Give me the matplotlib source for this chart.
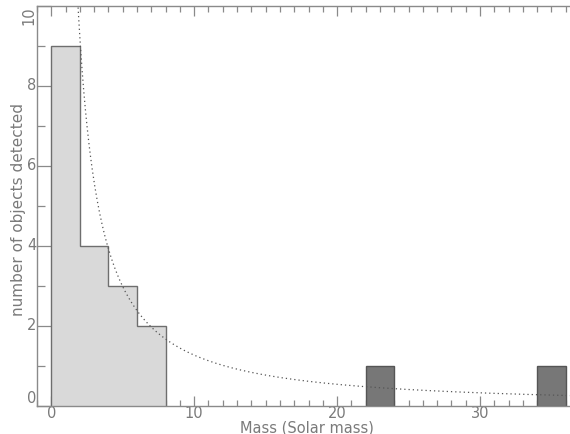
import numpy as np
import matplotlib
matplotlib.use("Agg")
import matplotlib.pyplot as plt
from matplotlib.ticker import MultipleLocator

# Histogram of detected masses (solar masses), bins 2 wide
light_edges = [0, 2, 4, 6, 8]
light_counts = [9, 4, 3, 2]
dark_left = [22, 34]
dark_counts = [1, 1]
bin_width = 2

# Power-law fit  N(M) = amp * M**(-index)
fit_amp = 21.6
fit_index = 1.23

axis_gray = "#8a8a8a"
text_gray = "#7a7a7a"

fig = plt.figure(figsize=(5.70, 4.34), dpi=100)
ax = fig.add_axes([37 / 570, 28 / 434, 533 / 570, 400 / 434])

# light histogram: filled steps with a single outline
ax.stairs(light_counts, light_edges, fill=True, color="#d9d9d9",
          linewidth=0, zorder=2)
ax.stairs(light_counts, light_edges, baseline=0, color="#6e6e6e",
          linewidth=1.0, zorder=2.5)
ax.bar(dark_left, dark_counts, width=bin_width, align="edge",
       color="#777777", edgecolor="#555555", linewidth=1.0, zorder=2)

m = np.linspace(1.5, 37, 600)
ax.plot(m, fit_amp * m ** (-fit_index), linestyle=(0, (1, 2.4)),
        color="#555555", linewidth=0.9, zorder=3)

ax.set_xlim(-1, 36.3)
ax.set_ylim(0, 10)

ax.xaxis.set_major_locator(MultipleLocator(10))
ax.xaxis.set_minor_locator(MultipleLocator(1))
ax.yaxis.set_major_locator(MultipleLocator(2))
ax.yaxis.set_minor_locator(MultipleLocator(1))

for side in ("left", "bottom", "top"):
    ax.spines[side].set_color(axis_gray)
    ax.spines[side].set_linewidth(1.0)
ax.spines["right"].set_visible(False)

ax.tick_params(axis="x", which="both", direction="in", top=True,
               color=axis_gray, width=0.9, labelcolor=text_gray,
               labelsize=10.5, pad=0)
ax.tick_params(axis="x", which="major", length=7)
ax.tick_params(axis="x", which="minor", length=4)
ax.tick_params(axis="y", which="both", direction="in", right=False,
               color=axis_gray, width=0.9, labelcolor=text_gray,
               labelsize=10.5, pad=0.5)
ax.tick_params(axis="y", which="major", length=10)
ax.tick_params(axis="y", which="minor", length=6)

fig.canvas.draw()
yticks = ax.get_yticks()
for val, lbl in zip(yticks, ax.get_yticklabels()):
    if val <= 0:
        lbl.set_va("bottom")
    elif val >= 10:
        # top label turned on its side so it fits against the frame
        lbl.set_rotation(90)
        lbl.set_va("top")
    else:
        lbl.set_va("center")

ax.set_xlabel("Mass (Solar mass)", color=text_gray, fontsize=10.5)
ax.xaxis.set_label_coords(0.507, -0.0355)
ax.xaxis.label.set_va("top")
ax.set_ylabel("number of objects detected", color=text_gray, fontsize=11)
ax.yaxis.set_label_coords(-0.034, 0.49)
ax.yaxis.label.set_va("center")

fig.savefig("out.png", dpi=100, facecolor="white")
